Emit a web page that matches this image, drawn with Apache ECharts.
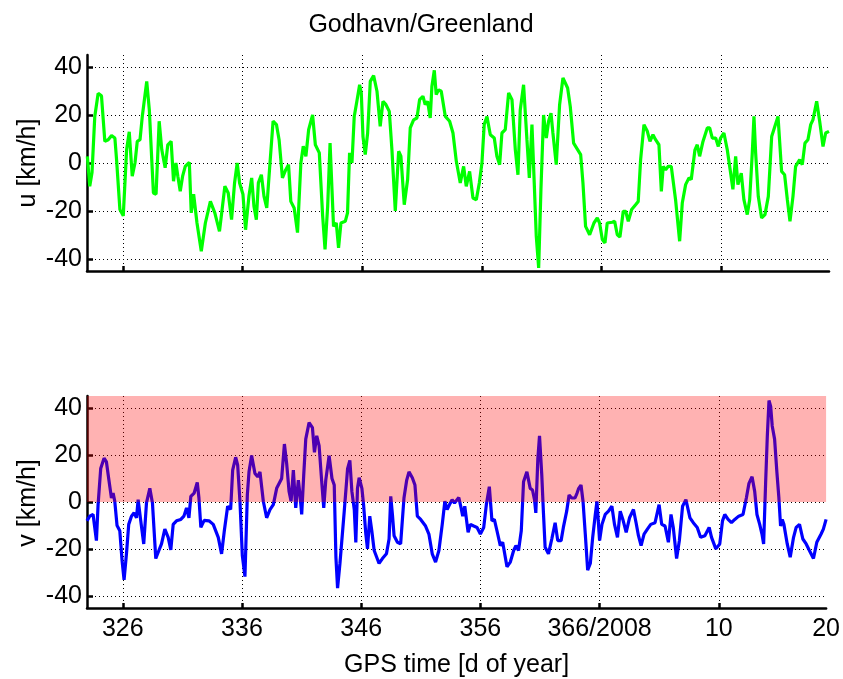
<!DOCTYPE html>
<html>
<head>
<meta charset="utf-8">
<script src="https://cdn.jsdelivr.net/npm/echarts@6/dist/echarts.min.js"></script>
<style>
  html, body { margin: 0; padding: 0; background: #fff; }
  #chart { width: 843px; height: 679px; }
</style>
</head>
<body>
<div id="chart"></div>
<script>
// Wind components at Godhavn/Greenland, day of year (2007 → 2008)
const uDays = [
  323.03, 323.23, 323.42, 323.65, 323.93, 324.21, 324.49, 324.77, 325.05, 325.33,
  325.47, 325.75, 326.03, 326.31, 326.53, 326.78, 327.01, 327.20, 327.43, 327.62,
  327.99, 328.21, 328.41, 328.55, 328.77, 329.03, 329.25, 329.53, 329.75, 330.03,
  330.23, 330.43, 330.59, 330.79, 330.99, 331.21, 331.55, 331.71, 331.91, 332.05,
  332.19, 332.55, 332.89, 333.31, 333.68, 334.07, 334.52, 334.80, 335.08, 335.33,
  335.55, 335.75, 336.03, 336.25, 336.53, 336.76, 336.95, 337.15, 337.32, 337.57,
  337.79, 338.02, 338.27, 338.55, 338.83, 339.05, 339.33, 339.61, 339.84, 340.03,
  340.31, 340.59, 340.87, 341.07, 341.29, 341.52, 341.85, 342.08, 342.41, 342.69,
  342.89, 343.11, 343.31, 343.47, 343.60, 343.83, 344.02, 344.22, 344.58, 344.77,
  344.94, 345.14, 345.33, 345.55, 345.78, 345.92, 346.06, 346.25, 346.45, 346.67,
  346.95, 347.23, 347.50, 347.73, 347.98, 348.26, 348.48, 348.76, 349.04, 349.23,
  349.51, 349.79, 350.01, 350.29, 350.57, 350.79, 351.07, 351.26, 351.46, 351.68,
  351.82, 352.02, 352.18, 352.38, 352.60, 352.94, 353.30, 353.58, 353.86, 354.19,
  354.47, 354.69, 354.97, 355.25, 355.53, 355.78, 356.00, 356.19, 356.42, 356.70,
  357.03, 357.25, 357.48, 357.67, 357.95, 358.23, 358.51, 358.79, 359.01, 359.20,
  359.48, 359.76, 359.96, 360.18, 360.37, 360.54, 360.74, 360.93, 361.15, 361.38,
  361.57, 361.77, 361.93, 362.21, 362.49, 362.77, 363.16, 363.38, 363.66, 364.25,
  364.44, 364.66, 365.00, 365.36, 365.64, 365.83, 366.06, 366.28, 366.47, 366.89,
  367.09, 367.31, 367.53, 367.81, 368.01, 368.23, 368.51, 368.84, 369.06, 369.26,
  369.54, 369.82, 370.04, 370.29, 370.51, 370.79, 370.99, 371.15, 371.35, 371.57,
  371.82, 372.18, 372.52, 372.74, 373.02, 373.30, 373.49, 373.80, 373.99, 374.19,
  374.47, 374.83, 375.03, 375.25, 375.53, 375.75, 375.94, 376.22, 376.50, 376.78,
  376.97, 377.20, 377.39, 377.67, 377.89, 378.17, 378.37, 378.59, 378.73, 378.87,
  379.09, 379.37, 379.65, 379.93, 380.21, 380.48, 380.74, 381.04, 381.29, 381.52,
  381.74, 381.99, 382.21, 382.55, 382.77, 382.99, 383.24, 383.47, 383.66, 383.97,
  384.22, 384.50, 384.72, 385.00
];
const uVals = [
  2.8, -9.7, -4, 19.4, 29, 28, 9, 9.7, 11.4, 10.4,
  1.4, -19.4, -22, 5.5, 13, -5.5, 0, 9, 9.7, 19.4,
  34, 22, 1.4, -12.5, -13, 17.4, 5.5, -2, 7.6, 9,
  -7.6, 0, -5.5, -11.8, -5.5, -1.4, 0.3, -20.8, -13, -12.5,
  -25, -36.8, -25, -16, -20.8, -28.5, -9.7, -12.5, -23.6, -8.3,
  0, -8.3, -13, -27.8, -13.9, -6.2, -18, -23.6, -8.3, -4.9,
  -13.9, -18.75, -1.4, 17.4, 16, 9.7, -6.2, -2.8, -0.7, -16,
  -18.75, -29, 0, 7, 2.8, 13.9, 20, 7.6, 4.2, -22,
  -36, -18, 8.3, -11, -26.4, -25, -35.4, -25, -24.3, -20.8,
  4.2, 0, 19.4, 25.7, 32.6, 29, 11, 3.5, 12.5, 34,
  36.4, 29.9, 15.3, 25.7, 24.3, 21.5, 5.5, -20, 4.9, 2.8,
  -17.4, -6.9, 14.6, 18, 18.75, 26.4, 27.8, 24.3, 25.7, 18.75,
  32, 38.6, 28.5, 30.5, 29.9, 19.4, 17.4, 12.5, 0.7, -8.3,
  -1.4, -9.7, -3.5, -14.6, -15.3, -8.3, 0, 16, 19.4, 11.8,
  10.4, 2.8, -0.7, 12.5, 13.9, 29.2, 26.4, 5.5, -4.9, 22,
  32.6, 9.7, -6.2, 16, -8.3, -30.5, -43.75, -11, 20, 10.4,
  17.4, 20.8, 12.5, -0.7, 24.3, 35.4, 31.25, 23.6, 8.3, 3.5,
  -8.3, -26.4, -29.9, -25, -22.9, -25, -31.9, -33.3, -25, -24.7,
  -24.3, -29.9, -30.8, -20.1, -20.1, -24.3, -19.4, -17.4, -16, 1.4,
  16, 13.2, 9, 11.8, 9.7, 7.6, -11.8, -1.4, -2.8, -1.4,
  -1.4, -15.3, -32.6, -16.7, -9, -6.2, -6.9, 5.5, 7.6, 2.8,
  9, 14.6, 14.6, 10.4, 10.4, 6.9, 10.4, 12.5, 5.5, -4.2,
  -11, 2.8, -9, -4.2, -15.3, -21.5, -15.3, 4.2, 19.4, 4.2,
  -13.9, -22.9, -21.5, -13.9, 11, 15.3, 19.4, -3.5, -4.9, -15.3,
  -24.3, -13.9, -1.4, 1.4, -0.7, 8.3, 9.7, 16, 18, 25.7,
  17.4, 6.9, 12.5, 13.2
];

const vDays = [
  323.00, 323.23, 323.51, 323.65, 323.79, 323.93, 324.15, 324.43, 324.63, 324.82,
  325.05, 325.19, 325.33, 325.52, 325.75, 325.94, 326.11, 326.31, 326.50, 326.73,
  326.95, 327.15, 327.29, 327.51, 327.76, 327.99, 328.27, 328.49, 328.77, 329.03,
  329.25, 329.53, 329.81, 330.03, 330.23, 330.51, 330.87, 331.13, 331.35, 331.55,
  331.71, 331.99, 332.25, 332.39, 332.55, 332.83, 333.23, 333.59, 334.01, 334.29,
  334.52, 334.80, 335.05, 335.22, 335.47, 335.64, 335.83, 336.03, 336.25, 336.45,
  336.59, 336.81, 337.09, 337.32, 337.51, 337.79, 338.07, 338.35, 338.63, 338.91,
  339.33, 339.56, 339.75, 339.95, 340.12, 340.31, 340.51, 340.73, 340.87, 341.01,
  341.18, 341.35, 341.63, 341.91, 342.08, 342.27, 342.47, 342.69, 342.86, 343.03,
  343.31, 343.55, 343.74, 343.88, 344.02, 344.22, 344.58, 344.86, 345.05, 345.22,
  345.42, 345.55, 345.69, 345.83, 346.06, 346.20, 346.39, 346.53, 346.72, 346.89,
  347.09, 347.50, 347.78, 348.12, 348.34, 348.48, 348.62, 348.76, 349.04, 349.31,
  349.59, 349.82, 350.01, 350.29, 350.51, 350.71, 350.99, 351.40, 351.68, 351.96,
  352.24, 352.52, 352.80, 353.02, 353.21, 353.41, 353.63, 353.83, 353.99, 354.19,
  354.38, 354.52, 354.69, 354.97, 355.16, 355.44, 355.72, 356.00, 356.28, 356.50,
  356.75, 356.97, 357.17, 357.39, 357.67, 357.87, 358.03, 358.23, 358.51, 358.79,
  358.98, 359.20, 359.43, 359.62, 359.90, 360.18, 360.37, 360.54, 360.65, 360.82,
  360.96, 361.15, 361.29, 361.43, 361.71, 361.99, 362.27, 362.49, 362.77, 362.96,
  363.24, 363.44, 363.66, 363.94, 364.11, 364.25, 364.44, 364.61, 364.80, 365.00,
  365.22, 365.42, 365.64, 365.78, 366.00, 366.20, 366.47, 366.75, 367.03, 367.25,
  367.50, 367.73, 367.95, 368.23, 368.51, 368.84, 369.06, 369.26, 369.48, 369.73,
  370.01, 370.29, 370.65, 370.99, 371.21, 371.49, 371.77, 371.99, 372.18, 372.46,
  372.69, 372.96, 373.24, 373.58, 373.86, 374.19, 374.47, 374.83, 375.19, 375.39,
  375.75, 376.08, 376.31, 376.50, 376.78, 377.06, 377.34, 377.67, 378.03, 378.31,
  378.53, 378.79, 379.01, 379.20, 379.43, 379.62, 379.76, 379.93, 380.07, 380.21,
  380.35, 380.48, 380.68, 380.87, 381.04, 381.18, 381.32, 381.46, 381.74, 381.99,
  382.27, 382.49, 382.77, 383.05, 383.33, 383.60, 383.94, 384.22, 384.58, 384.77,
  385.00
];
const vVals = [
  -8, -6, -5.3, -10.8, -16.4, -1.1, 14.2, 18.6, 17, 10,
  1.7, 3.8, 0.3, -10, -12.2, -24.8, -33, -22, -9.5, -6,
  -4.6, -6.7, 1, -8, -17.8, -0.4, 5.8, -0.4, -24, -20.6,
  -17.8, -11.5, -15, -20.3, -9.5, -8, -7.4, -6, -2.5, -6.7,
  2.4, 3.8, 8.3, 1.7, -10.8, -7.8, -8, -9.5, -15, -22,
  -12.2, -1.8, -3.2, 13.5, 19, 15.6, 0.3, -22.7, -31.7, 3,
  12.8, 19.7, 12.1, 10.7, 12.8, 0.3, -6.7, -3.2, -1.1, 5.8,
  10, 24.6, 16.3, 4.5, 0.3, 13.5, -2.5, 9.3, 3, -5.3,
  11.4, 26.7, 33.7, 31.6, 21.1, 28.1, 23.9, 8.6, -2.5, 9.3,
  19.7, 10, 7.2, -23.4, -36.6, -26, -3.9, 14.2, 17.7, 4.5,
  -3.2, -17.2, 5.8, 10.3, 5.8, -1.1, -13.6, -19.9, -6, -12.2,
  -20.6, -26.1, -24, -22, -15.7, 2.4, -5.3, -14.3, -17.1, -17.8,
  1.7, 9.3, 12.8, 10.3, 7.2, -6, -7.4, -10.2, -13.6, -22,
  -25.5, -20.6, -9.5, 0.3, -3.2, -1.1, 1, -0.4, -0.4, 1.9,
  -2.5, -6, -1.8, -12.9, -9.5, -10.2, -10.8, -13.6, -10.8, -1.1,
  6.5, -8, -7.4, -12.2, -18.5, -17.1, -17.8, -27.5, -25.5, -20.6,
  -18.5, -20.6, -12.2, 8.6, 12.8, 5.8, 5.1, 1, -4.6, 18.4,
  28.1, 11.4, -4.6, -19.2, -22, -15.7, -8.8, -16.4, -16.4, -10.8,
  -3.9, 3, 1.7, 1.7, 3.8, 5.8, 7.2, 0.3, -13.6, -28.9,
  -26.1, -15, -5.3, 0.3, -16.4, -9.5, -5.3, -3.9, -1.8, -9.5,
  -15, -3.9, -7.4, -12.9, -6.7, -3.2, -8.8, -14.3, -18.5, -13.6,
  -11.5, -9.5, -8.8, -1.1, -9.5, -10.2, -17.1, -5.3, -10.8, -24,
  -16.4, -1.8, 1, -6.7, -8.8, -10.8, -15, -14.3, -10.8, -15,
  -19.9, -17.8, -8, -5.3, -7.4, -8.8, -7.4, -6, -5.3, 1.7,
  7.9, 10.7, 4.5, -5.3, -9.5, -13.6, -17.8, 8.6, 28.1, 43.1,
  40.6, 32.3, 26.7, 12.8, 1.7, -10.2, -7.4, -9.5, -17.8, -23.4,
  -15, -10.8, -9.5, -15.7, -17.8, -20.6, -24, -17.1, -13.6, -11.5,
  -7.4
];

// Axis ticks and labels
const dayTicks = [326, 336, 346, 356, 366, 376];
const dayLabelPos = [326, 336, 346, 356, 366, 376, 385];
const dayLabelText = ['326', '336', '346', '356', '366/2008', '10', '20'];
const speedTicks = [-40, -20, 0, 20, 40];
const DAY_MIN = 323, DAY_MAX = 385;
const SPEED_MIN = -45, SPEED_MAX = 45;
const NORTHWARD_FROM = 0;

const FONT = '"Liberation Sans", Arial, Helvetica, sans-serif';
const GRID_LINE = { color: '#000', width: 1, type: [1, 3] };
const AXIS_LINE = { color: '#000', width: 2.5 };

function pairs(xs, ys) { return xs.map((x, i) => [x, ys[i]]); }

function dayAxis(gridIndex, withLabels) {
  return {
    type: 'value', gridIndex, min: DAY_MIN, max: DAY_MAX,
    name: withLabels ? 'GPS time [d of year]' : '',
    nameLocation: 'middle', nameGap: 45, nameMoveOverlap: false,
    nameTextStyle: { fontSize: 25, color: '#000', fontFamily: FONT },
    axisLine: { show: true, onZero: false, lineStyle: AXIS_LINE },
    axisTick: { show: true, inside: true, length: 5, customValues: dayTicks, lineStyle: AXIS_LINE },
    axisLabel: {
      show: withLabels, customValues: dayLabelPos, hideOverlap: false,
      formatter: v => dayLabelText[dayLabelPos.indexOf(v)],
      fontSize: 25, color: '#000', margin: 9, fontFamily: FONT
    },
    splitLine: { show: true, lineStyle: GRID_LINE }
  };
}

function speedAxis(gridIndex) {
  return {
    type: 'value', gridIndex, min: SPEED_MIN, max: SPEED_MAX,
    axisLine: { show: true, onZero: false, lineStyle: AXIS_LINE },
    axisTick: { show: true, inside: true, length: 6, customValues: speedTicks, lineStyle: AXIS_LINE },
    axisLabel: { customValues: speedTicks, fontSize: 25, color: '#000', margin: 5, fontFamily: FONT },
    splitLine: { show: true, lineStyle: GRID_LINE }
  };
}

// vertical axis titles, centred beside each panel
function sideTitle(text, centreY) {
  return {
    type: 'text', x: 28, y: centreY, rotation: Math.PI / 2,
    style: { text, fill: '#000', font: '25px ' + FONT, align: 'center', verticalAlign: 'middle' }
  };
}

const chart = echarts.init(document.getElementById('chart'), null, { renderer: 'canvas' });
chart.setOption({
  animation: false,
  backgroundColor: '#fff',
  title: {
    text: 'Godhavn/Greenland', left: 416, top: 8, textAlign: 'center',
    textStyle: { fontSize: 25, fontWeight: 'normal', color: '#000', fontFamily: FONT }
  },
  grid: [
    { left: 87, right: 14, top: 55, height: 216 },
    { left: 87, right: 14, top: 396, height: 215 }
  ],
  graphic: [sideTitle('u [km/h]', 163), sideTitle('v [km/h]', 503)],
  xAxis: [dayAxis(0, false), dayAxis(1, true)],
  yAxis: [speedAxis(0), speedAxis(1)],
  series: [
    {
      name: 'u', type: 'line', xAxisIndex: 0, yAxisIndex: 0,
      data: pairs(uDays, uVals), showSymbol: false, symbol: 'none',
      lineStyle: { color: '#00ff00', width: 3.2 }, z: 3
    },
    {
      name: 'v', type: 'line', xAxisIndex: 1, yAxisIndex: 1,
      data: pairs(vDays, vVals), showSymbol: false, symbol: 'none',
      lineStyle: { color: '#0000ff', width: 3.2 }, z: 3
    },
    {
      // translucent band laid over the northward (v > 0) half
      name: 'north', type: 'line', xAxisIndex: 1, yAxisIndex: 1,
      data: [], z: 10, silent: true,
      markArea: {
        silent: true, z: 10,
        itemStyle: { color: 'rgba(255,0,0,0.3)' },
        data: [[{ coord: [DAY_MIN, NORTHWARD_FROM] }, { coord: [DAY_MAX, SPEED_MAX] }]]
      }
    }
  ]
});
</script>
</body>
</html>
